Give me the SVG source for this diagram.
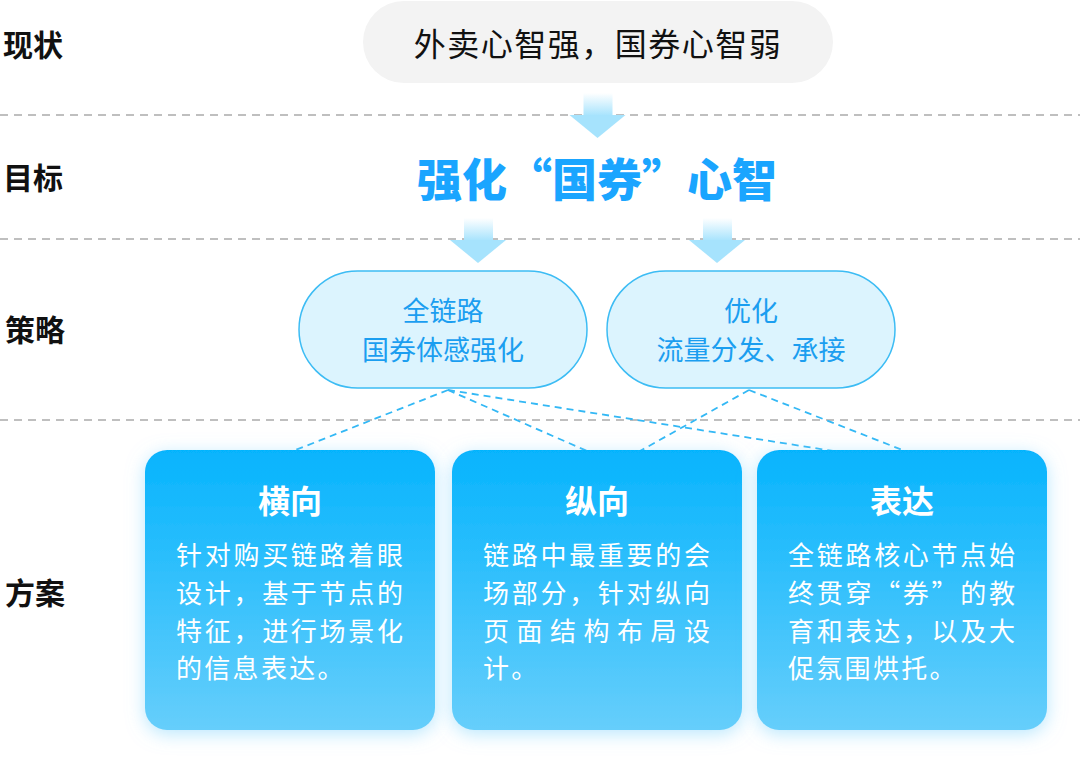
<svg xmlns="http://www.w3.org/2000/svg" width="1080" height="766" viewBox="0 0 1080 766">
<defs>
<linearGradient id="stem" x1="0" y1="0" x2="0" y2="1"><stop offset="0" stop-color="#ffffff"/><stop offset="1" stop-color="#a6e3fd"/></linearGradient>
<linearGradient id="boxg" x1="0" y1="0" x2="0" y2="1"><stop offset="0" stop-color="#06b4fd"/><stop offset="1" stop-color="#66cefb"/></linearGradient>
<filter id="glow" x="-20%" y="-20%" width="140%" height="140%"><feDropShadow dx="0" dy="4" stdDeviation="9" flood-color="#7fd3fb" flood-opacity="0.55"/></filter>
<g id="arrow"><rect x="-14" y="0" width="29" height="23" fill="url(#stem)"/><polygon points="-28,22 28,22 0,45" fill="#a6e3fd"/></g>
</defs>
<style>
.lab{font-family:"Noto Sans CJK SC",sans-serif;font-weight:bold;font-size:30px;fill:#111}
.sep{stroke:#aaaaaa;stroke-width:1.5;stroke-dasharray:8 6;fill:none}
.pill{fill:#dcf4fe;stroke:#3cbcf4;stroke-width:1.5}
.pt{font-family:"Noto Sans CJK SC",sans-serif;font-size:27px;fill:#1b9ef0;text-anchor:middle}
.con{stroke:#33b8f5;stroke-width:1.8;stroke-dasharray:7 5;fill:none}
.box{fill:url(#boxg);filter:url(#glow)}
.bt{font-family:"Noto Sans CJK SC",sans-serif;font-weight:bold;font-size:32px;fill:#fff;text-anchor:middle}
.bb{font-family:"Noto Sans CJK SC",sans-serif;font-size:26px;fill:#fff}
</style>
<rect width="1080" height="766" fill="#ffffff"/>
<g id="labels">
<text class="lab" x="3" y="56">现状</text>
<text class="lab" x="3" y="189">目标</text>
<text class="lab" x="5" y="341">策略</text>
<text class="lab" x="5" y="604">方案</text>
</g>
<g id="separators">
<line class="sep" x1="0" y1="115" x2="1080" y2="115"/>
<line class="sep" x1="0" y1="239" x2="1080" y2="239"/>
<line class="sep" x1="0" y1="420" x2="1080" y2="420"/>
</g>
<g id="status">
<rect x="363" y="1" width="470" height="82" rx="41" fill="#f3f3f3"/>
<text x="598" y="56" font-family="Noto Sans CJK SC, sans-serif" font-size="32" fill="#111" text-anchor="middle" letter-spacing="1.5">外卖心智强，国券心智弱</text>
</g>
<g id="goal">
<text x="597" y="197" font-family="Noto Sans CJK SC, sans-serif" font-weight="900" font-size="45" fill="#1aa5ff" text-anchor="middle">强化“国券”心智</text>
</g>
<g id="arrows">
<use href="#arrow" x="597.5" y="93"/>
<use href="#arrow" x="478" y="218"/>
<use href="#arrow" x="717" y="218"/>
</g>
<g id="strategy1">
<rect class="pill" x="299" y="271" width="288" height="117" rx="58.5"/>
<text class="pt" x="443" y="321">全链路</text>
<text class="pt" x="443" y="360">国券体感强化</text>
</g>
<g id="strategy2">
<rect class="pill" x="607" y="271" width="288" height="117" rx="58.5"/>
<text class="pt" x="751" y="321">优化</text>
<text class="pt" x="751" y="360">流量分发、承接</text>
</g>
<g id="connectors">
<line class="con" x1="448" y1="390" x2="293" y2="451"/>
<line class="con" x1="448" y1="390" x2="587" y2="451"/>
<line class="con" x1="448" y1="390" x2="833" y2="451"/>
<line class="con" x1="749" y1="390" x2="640" y2="451"/>
<line class="con" x1="749" y1="390" x2="905" y2="451"/>
</g>
<g id="plan1">
<rect class="box" x="145" y="450" width="290" height="280" rx="22"/>
<text class="bt" x="290" y="513">横向</text>
<text class="bb" x="176" y="565" textLength="227" lengthAdjust="spacing">针对购买链路着眼</text>
<text class="bb" x="176" y="603" textLength="227" lengthAdjust="spacing">设计，基于节点的</text>
<text class="bb" x="176" y="641" textLength="227" lengthAdjust="spacing">特征，进行场景化</text>
<text class="bb" x="176" y="678" letter-spacing="2.3">的信息表达。</text>
</g>
<g id="plan2">
<rect class="box" x="452" y="450" width="290" height="280" rx="22"/>
<text class="bt" x="597" y="513">纵向</text>
<text class="bb" x="483" y="565" textLength="227" lengthAdjust="spacing">链路中最重要的会</text>
<text class="bb" x="483" y="603" textLength="227" lengthAdjust="spacing">场部分，针对纵向</text>
<text class="bb" x="483" y="641" textLength="227" lengthAdjust="spacing">页面结构布局设</text>
<text class="bb" x="483" y="678" letter-spacing="2.3">计。</text>
</g>
<g id="plan3">
<rect class="box" x="757" y="450" width="290" height="280" rx="22"/>
<text class="bt" x="902" y="513">表达</text>
<text class="bb" x="788" y="565" textLength="227" lengthAdjust="spacing">全链路核心节点始</text>
<text class="bb" x="788" y="603" textLength="227" lengthAdjust="spacing">终贯穿“券”的教</text>
<text class="bb" x="788" y="641" textLength="227" lengthAdjust="spacing">育和表达，以及大</text>
<text class="bb" x="788" y="678" letter-spacing="2.3">促氛围烘托。</text>
</g>
</svg>
